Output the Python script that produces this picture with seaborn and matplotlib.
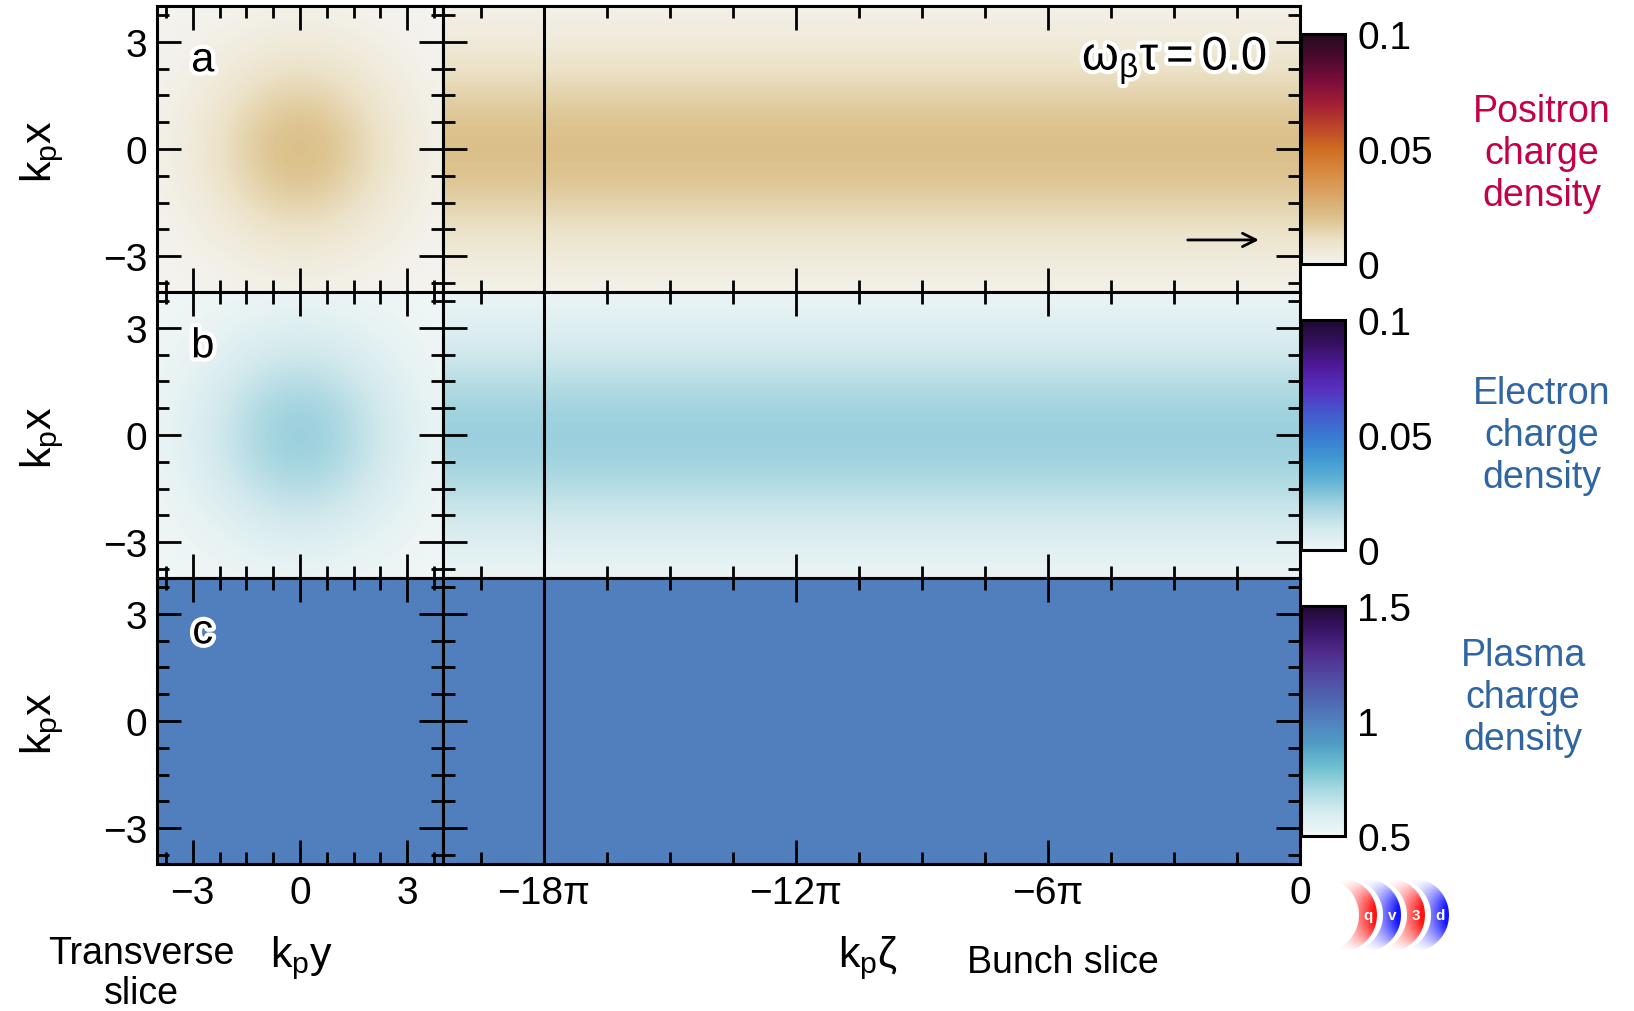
import numpy as np
import matplotlib
matplotlib.use("Agg")
import matplotlib.pyplot as plt
import matplotlib.patheffects as pe
from matplotlib.ticker import FixedLocator, MultipleLocator
from matplotlib.patches import Polygon
from matplotlib.colors import to_rgb
import seaborn as sns

# ------------------------------------------------------------------ data
# transverse coordinate samples (k_p x, k_p y)
x_samples = [-4.0, -3.5, -3.0, -2.5, -2.0, -1.5, -1.0, -0.5, 0.0,
             0.5, 1.0, 1.5, 2.0, 2.5, 3.0, 3.5, 4.0]
# transverse charge-density profiles
positron_profile = [0.0019, 0.0035, 0.0056, 0.0084, 0.0116, 0.0150, 0.0181, 0.0202, 0.0210,
                    0.0202, 0.0181, 0.0150, 0.0116, 0.0084, 0.0056, 0.0035, 0.0019]
electron_profile = [0.0019, 0.0035, 0.0056, 0.0084, 0.0116, 0.0150, 0.0181, 0.0202, 0.0210,
                    0.0202, 0.0181, 0.0150, 0.0116, 0.0084, 0.0056, 0.0035, 0.0019]
# longitudinal samples (k_p zeta in units of pi) and relative weights
zeta_samples = [-20.4, 0.0]
positron_long = [1.0, 1.0]
electron_long = [1.0, 1.0]
plasma_density = [[1.0, 1.0], [1.0, 1.0]]

zeta_range = [-20.4, 0.0]
xy_range = [-4.0, 4.0]
slice_zeta = -18.0

xy_ticks = [-3, 0, 3]
xy_ticklabels = ["\u22123", "0", "3"]
zeta_ticks = [-18, -12, -6, 0]
zeta_ticklabels = ["\u221218\u03c0", "\u221212\u03c0", "\u22126\u03c0", "0"]

cbar_ranges = [(0.0, 0.1), (0.0, 0.1), (0.5, 1.5)]
cbar_ticks = [[0.0, 0.05, 0.1], [0.0, 0.05, 0.1], [0.5, 1.0, 1.5]]
cbar_ticklabels = [["0", "0.05", "0.1"], ["0", "0.05", "0.1"], ["0.5", "1", "1.5"]]

panel_letters = ["a", "b", "c"]
side_titles = ["Positron\ncharge\ndensity", "Electron\ncharge\ndensity", "Plasma\ncharge\ndensity"]
side_colors = ["#c5004b", "#2f65a3", "#2f65a3"]

# ------------------------------------------------------------------ style
sns.set_theme(style="ticks")
plt.rcParams["font.family"] = ["Liberation Sans", "DejaVu Sans"]
plt.rcParams["mathtext.fontset"] = "custom"
plt.rcParams["mathtext.rm"] = "Liberation Sans"
plt.rcParams["mathtext.it"] = "Liberation Sans:italic"
plt.rcParams["mathtext.bf"] = "Liberation Sans:bold"
plt.rcParams["mathtext.default"] = "regular"
plt.rcParams["axes.unicode_minus"] = True
for key in ["text.color", "axes.labelcolor", "xtick.color", "ytick.color", "axes.edgecolor"]:
    plt.rcParams[key] = "black"

positron_cmap = sns.blend_palette(
    ["#f4f3ee", "#ece2c8", "#dcc28c", "#d9a566", "#d88a40", "#cf6c22",
     "#bb4328", "#a11d36", "#7a0c3a", "#4a0a2e", "#250b1c"], as_cmap=True)
electron_cmap = sns.blend_palette(
    ["#f0f6f6", "#cfe8ec", "#9fd2de", "#62b4d4", "#3f98d2", "#3a78d0",
     "#4456cc", "#5630c0", "#4f1a9a", "#36105f", "#1c0a30"], as_cmap=True)
plasma_cmap = sns.blend_palette(
    ["#f2f7f7", "#d6ecef", "#a8dae2", "#6fbfd0", "#4f9dc4", "#5280be",
     "#4f64b0", "#5048a2", "#4f2a8c", "#3a1466", "#1e0a30"], as_cmap=True)
cmaps = [positron_cmap, electron_cmap, plasma_cmap]

W, H = 1634, 1012
fig = plt.figure(figsize=(W / 100, H / 100), dpi=100)


def fx(px):
    return px / W


def fy(py):
    return 1 - py / H


row_tops = [7, 293, 579]
row_h = 286
left_x0, left_w = 157, 286
right_x0, right_w = 443, 857

TICK_MAJ = 17
TICK_MIN = 8.6
TW = 2.0
FS = 28

xs = np.array(x_samples)
dx = xs[1] - xs[0]
ext_xy = [xs[0] - dx / 2, xs[-1] + dx / 2]

pos2d_t = np.outer(positron_profile, positron_profile) / max(positron_profile)
ele2d_t = np.outer(electron_profile, electron_profile) / max(electron_profile)
pos2d_l = np.outer(positron_profile, positron_long)
ele2d_l = np.outer(electron_profile, electron_long)
pla = np.array(plasma_density)
trans_fields = [pos2d_t, ele2d_t, pla]
long_fields = [pos2d_l, ele2d_l, pla]


def style_axes(ax, xmajor, xminor, show_xlabels, show_ylabels, xlabels):
    for s in ax.spines.values():
        s.set_linewidth(2.2)
        s.set_color("black")
    ax.xaxis.set_major_locator(FixedLocator(xmajor))
    ax.xaxis.set_minor_locator(MultipleLocator(xminor))
    ax.yaxis.set_major_locator(FixedLocator(xy_ticks))
    ax.yaxis.set_minor_locator(MultipleLocator(0.75))
    ax.tick_params(which="both", direction="in", top=True, right=True,
                   bottom=True, left=True, color="black", width=TW)
    ax.tick_params(which="major", length=TICK_MAJ)
    ax.tick_params(which="minor", length=TICK_MIN)
    ax.tick_params(axis="x", labelbottom=show_xlabels, labelsize=FS, pad=8)
    ax.tick_params(axis="y", labelleft=show_ylabels, labelsize=FS, pad=7)
    if show_xlabels:
        ax.set_xticklabels(xlabels)
    if show_ylabels:
        ax.set_yticklabels(xy_ticklabels)


stroke = [pe.withStroke(linewidth=6, foreground="white")]

for i in range(3):
    top = row_tops[i]
    bottom_fig = fy(top + row_h)
    vmin, vmax = cbar_ranges[i]
    last = i == 2

    # transverse slice
    axl = fig.add_axes([fx(left_x0), bottom_fig, fx(left_w), row_h / H])
    if i < 2:
        axl.imshow(trans_fields[i], cmap=cmaps[i], vmin=vmin, vmax=vmax, origin="lower",
                   extent=[ext_xy[0], ext_xy[1], ext_xy[0], ext_xy[1]],
                   interpolation="bicubic", aspect="auto")
    else:
        axl.imshow(trans_fields[i], cmap=cmaps[i], vmin=vmin, vmax=vmax, origin="lower",
                   extent=[xy_range[0], xy_range[1], xy_range[0], xy_range[1]],
                   interpolation="nearest", aspect="auto")
    axl.set_xlim(xy_range)
    axl.set_ylim(xy_range)
    style_axes(axl, xy_ticks, 0.75, last, True, xy_ticklabels)
    axl.text(0.16, 0.81, panel_letters[i], transform=axl.transAxes, fontsize=30,
             ha="center", va="center", path_effects=stroke, zorder=5)

    # bunch slice
    axr = fig.add_axes([fx(right_x0), bottom_fig, fx(right_w), row_h / H])
    if i < 2:
        im = axr.imshow(long_fields[i], cmap=cmaps[i], vmin=vmin, vmax=vmax, origin="lower",
                        extent=[zeta_samples[0], zeta_samples[-1], ext_xy[0], ext_xy[1]],
                        interpolation="bicubic", aspect="auto")
    else:
        im = axr.imshow(long_fields[i], cmap=cmaps[i], vmin=vmin, vmax=vmax, origin="lower",
                        extent=[zeta_range[0], zeta_range[1], xy_range[0], xy_range[1]],
                        interpolation="nearest", aspect="auto")
    axr.axvline(slice_zeta, color="black", lw=2.2, zorder=4)
    axr.set_xlim(zeta_range)
    axr.set_ylim(xy_range)
    style_axes(axr, zeta_ticks, 1.5, last, False, zeta_ticklabels)

    if i == 0:
        axr.text(0.962, 0.808, r"$\mathregular{ω_{β}τ = 0.0}$", transform=axr.transAxes,
                 fontsize=34, ha="right", va="center", path_effects=stroke, zorder=5)
        axr.annotate("", xy=(0.952, 0.182), xytext=(0.869, 0.182),
                     xycoords="axes fraction", textcoords="axes fraction",
                     arrowprops=dict(arrowstyle="->", lw=2, color="black",
                                     mutation_scale=24, shrinkA=0, shrinkB=0))

    # colorbar
    cb_top = top + 28
    cax = fig.add_axes([fx(1301), fy(cb_top + 230), fx(44), 230 / H])
    cb = fig.colorbar(im, cax=cax, ticks=cbar_ticks[i])
    cb.ax.set_yticklabels(cbar_ticklabels[i])
    cb.ax.tick_params(direction="in", length=TICK_MAJ, width=TW, pad=9,
                      labelsize=FS, right=True, left=False, color="black")
    cb.ax.minorticks_off()
    cb.outline.set_linewidth(2.2)
    cb.outline.set_edgecolor("black")

    # y-axis label
    fig.text(fx(42), fy(top + 145), r"$\mathregular{k_px}$", rotation=90,
             ha="center", va="center", fontsize=31)

# side titles
side_pos = [(1542, 154), (1542, 436), (1523, 698)]
for (px, py), t, c in zip(side_pos, side_titles, side_colors):
    fig.text(fx(px), fy(py), t, ha="center", va="center", color=c,
             fontsize=27, linespacing=1.2)

# bottom labels
fig.text(fx(141), fy(974), "Transverse\nslice", ha="center", va="center",
         fontsize=27, linespacing=1.12)
fig.text(fx(302), fy(958), r"$\mathregular{k_py}$", ha="center", va="center", fontsize=31)
fig.text(fx(868), fy(958), r"$\mathregular{k_pζ}$", ha="center", va="center", fontsize=31)
fig.text(fx(1063), fy(963), "Bunch slice", ha="center", va="center", fontsize=27)

# logo
lax = fig.add_axes([fx(1328), fy(960), fx(134), 88 / H])
lax.set_axis_off()
logo_x = [40, 64, 88, 112]
logo_colors = ["#ff1414", "#1414ff", "#ff1414", "#1414ff"]
logo_letters = ["q", "v", "3", "d"]
R, d, yc = 37.0, 18.0, 44.0
for k, (lx, col, ch) in enumerate(zip(logo_x, logo_colors, logo_letters)):
    cx = lx - 28
    th0 = np.arccos(-d / (2 * R))
    ph0 = np.arccos(d / (2 * R))
    t = np.linspace(-th0, th0, 80)
    p = np.linspace(ph0, -ph0, 80)
    outer = np.c_[cx + R * np.cos(t), yc + R * np.sin(t)]
    inner = np.c_[cx - d + R * np.cos(p), yc + R * np.sin(p)]
    poly = Polygon(np.vstack([outer, inner]), closed=True, fc="none", ec="none")
    lax.add_patch(poly)
    gx = np.linspace(cx - d / 2, cx + R, 90)
    gy = np.linspace(yc - R, yc + R, 90)
    GX, GY = np.meshgrid(gx, gy)
    a = np.clip((GX - gx[0]) / (gx[-1] - gx[0]), 0, 1) ** 1.5 * \
        np.clip(1 - ((GY - yc) / 36.0) ** 2, 0, 1) ** 0.9
    a = np.clip(a / a.max() * 1.15, 0, 1)
    rgba = np.zeros(GX.shape + (4,))
    rgba[..., :3] = to_rgb(col)
    rgba[..., 3] = a
    gim = lax.imshow(rgba, extent=[gx[0], gx[-1], gy[0], gy[-1]], origin="lower",
                     interpolation="bilinear", aspect="auto", zorder=k)
    gim.set_clip_path(poly)
    lax.text(lx, yc, ch, color="white", fontsize=11, fontweight="bold",
             ha="center", va="center", zorder=10)
lax.set_xlim(0, 134)
lax.set_ylim(0, 88)

fig.savefig("out.png", dpi=100)
